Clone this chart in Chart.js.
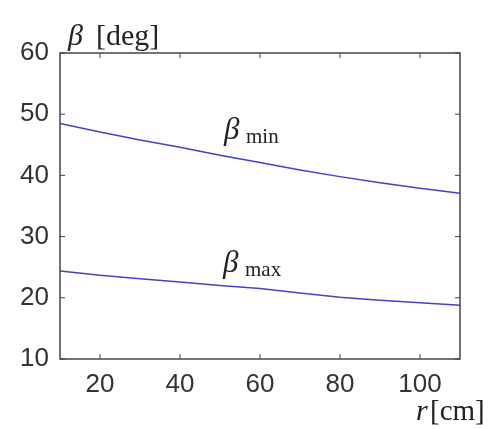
<!DOCTYPE html>
<html>
<head>
<meta charset="utf-8">
<script src="https://cdn.jsdelivr.net/npm/chart.js@4/dist/chart.umd.min.js"></script>
<style>
  html, body { margin: 0; padding: 0; background: #fff; }
  #wrap { width: 493px; height: 429px; }
</style>
</head>
<body>
<div id="wrap"><canvas id="betaChart"></canvas></div>
<script>
// radius r [cm]
const radius = [10, 20, 30, 40, 50, 60, 70, 80, 90, 100, 110];
// beta limits [deg]
const betaMin = [48.5, 47.1, 45.8, 44.6, 43.3, 42.1, 40.9, 39.8, 38.8, 37.9, 37.1];
const betaMax = [24.4, 23.7, 23.1, 22.6, 22.0, 21.5, 20.8, 20.1, 19.6, 19.2, 18.8];
const xTicks = [20, 40, 60, 80, 100];
const yTicks = [10, 20, 30, 40, 50, 60];

const lineColor = '#4242cc';
const axisColor = '#444';

// frame + inward ticks + text labels
const frame = {
    id: 'frame',
    afterDraw(chart) {
        const { ctx, chartArea: a, scales } = chart;
        ctx.save();
        ctx.strokeStyle = axisColor;
        ctx.lineWidth = 1.5;
        ctx.strokeRect(a.left, a.top, a.right - a.left, a.bottom - a.top);
        ctx.lineWidth = 1;
        xTicks.forEach(v => {
            const x = scales.x.getPixelForValue(v);
            ctx.beginPath();
            ctx.moveTo(x, a.bottom); ctx.lineTo(x, a.bottom - 5);
            ctx.moveTo(x, a.top); ctx.lineTo(x, a.top + 5);
            ctx.stroke();
        });
        yTicks.forEach(v => {
            const y = scales.y.getPixelForValue(v);
            ctx.beginPath();
            ctx.moveTo(a.left, y); ctx.lineTo(a.left + 5, y);
            ctx.moveTo(a.right, y); ctx.lineTo(a.right - 5, y);
            ctx.stroke();
        });

        ctx.fillStyle = '#222';
        ctx.textBaseline = 'alphabetic';
        ctx.textAlign = 'left';
        // y title
        ctx.font = 'italic 30px "Liberation Serif"';
        ctx.fillText('β', 68, 45);
        ctx.font = '30px "Liberation Serif"';
        ctx.fillText('[deg]', 96, 45);
        // x title
        ctx.font = 'italic 30px "Liberation Serif"';
        ctx.fillText('r', 416, 420);
        ctx.font = '29px "Liberation Serif"';
        ctx.fillText('[cm]', 430, 420);
        // curve labels
        const lbl = (sub, x, y) => {
            ctx.font = 'italic 31px "Liberation Serif"';
            ctx.fillText('β', x, y);
            ctx.font = '21px "Liberation Serif"';
            ctx.fillText(sub, x + 22, y + 4);
        };
        lbl('min', 224, 139);
        lbl('max', 223, 272);
        ctx.restore();
    }
};

new Chart(document.getElementById('betaChart'), {
    type: 'line',
    data: {
        datasets: [
            { label: 'βmin', data: radius.map((r, i) => ({ x: r, y: betaMin[i] })) },
            { label: 'βmax', data: radius.map((r, i) => ({ x: r, y: betaMax[i] })) },
        ],
    },
    options: {
        responsive: true,
        maintainAspectRatio: false,
        animation: false,
        layout: { padding: { top: 53, right: 33, left: 0, bottom: 0 } },
        elements: {
            point: { radius: 0 },
            line: { borderColor: lineColor, borderWidth: 1.5, tension: 0 },
        },
        plugins: { legend: { display: false }, tooltip: { enabled: false } },
        scales: {
            x: {
                type: 'linear', min: 10, max: 110,
                afterBuildTicks: s => { s.ticks = xTicks.map(v => ({ value: v })); },
                afterFit: s => { s.height = 70; },
                grid: { display: false },
                border: { display: false },
                ticks: { color: '#333', padding: 2, font: { family: 'Liberation Sans', size: 26 } },
            },
            y: {
                min: 10, max: 60,
                afterBuildTicks: s => { s.ticks = yTicks.map(v => ({ value: v })); },
                afterFit: s => { s.width = 60; },
                grid: { display: false },
                border: { display: false },
                ticks: { color: '#333', padding: 3, font: { family: 'Liberation Sans', size: 26 } },
            },
        },
    },
    plugins: [frame],
});
</script>
</body>
</html>
